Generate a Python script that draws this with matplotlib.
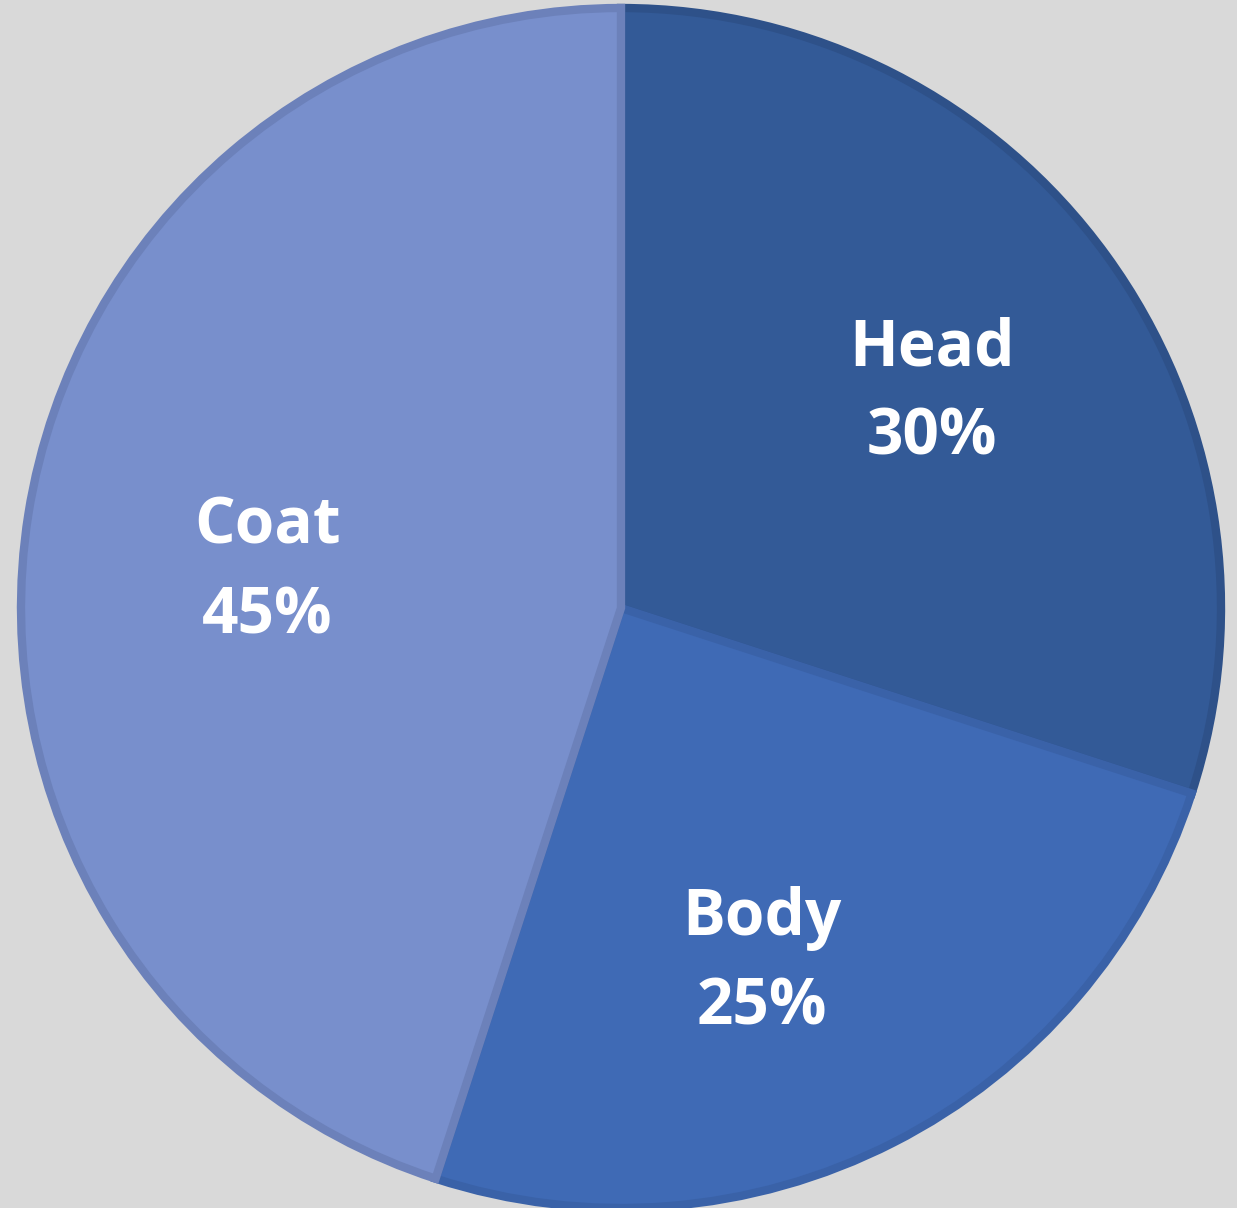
import matplotlib.pyplot as plt

# data
parts = ["Head", "Body", "Coat"]
shares = [30, 25, 45]
fill_colors = ["#335a97", "#3f6ab5", "#788fcc"]
edge_colors = ["#2e5189", "#3a62a8", "#6c81ba"]

W, H = 1237, 1208
fig = plt.figure(figsize=(W / 100, H / 100), dpi=100)
fig.patch.set_facecolor("#d9d9d9")
ax = fig.add_axes([0, 0, 1, 1])

labels_iter = iter(parts)

def fmt(pct):
    return f"{next(labels_iter)}\n{pct:.0f}%"

wedges, texts, autotexts = ax.pie(
    shares,
    colors=fill_colors,
    startangle=90,
    counterclock=False,
    center=(621, H - 608),
    radius=600,
    autopct=fmt,
    pctdistance=0.62,
    frame=True,
    wedgeprops=dict(linewidth=6),
    textprops=dict(color="white", fontsize=46, fontweight="bold",
                   family="Open Sans", linespacing=1.5),
)
ax.set_xlim(0, W)
ax.set_ylim(0, H)
ax.set_aspect("equal")
ax.axis("off")

for w, ec in zip(wedges, edge_colors):
    w.set_edgecolor(ec)

# small nudges so labels sit like the original layout (pixels)
nudges = [(10, -4), (-28, -24), (14, -22)]
for t, (dx, dy) in zip(autotexts, nudges):
    x, y = t.get_position()
    t.set_position((x + dx, y + dy))
    t.set_horizontalalignment("center")

fig.savefig("out.png", dpi=100, facecolor=fig.get_facecolor())
